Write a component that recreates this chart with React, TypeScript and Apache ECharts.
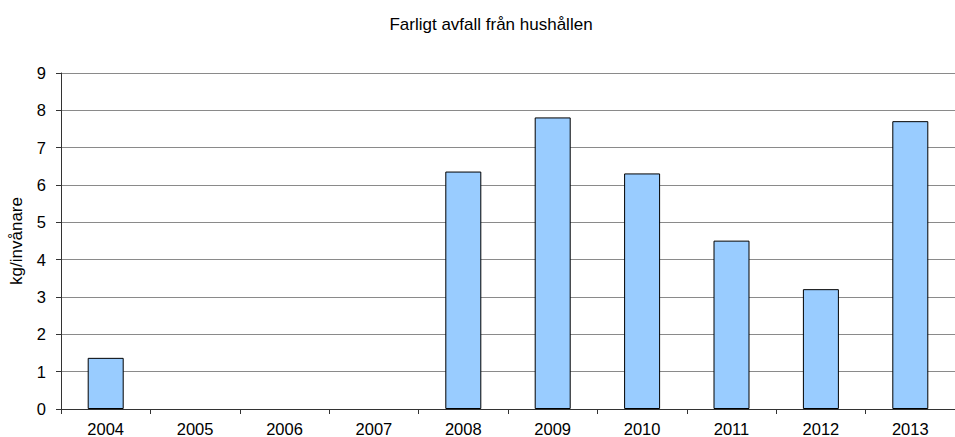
import React, { useEffect, useRef } from "react";
import * as echarts from "echarts";

const categories = ["2004", "2005", "2006", "2007", "2008", "2009", "2010", "2011", "2012", "2013"];
const values = [1.37, 0, 0, 0, 6.36, 7.81, 6.31, 4.51, 3.21, 7.71];
const yTicks = [0, 1, 2, 3, 4, 5, 6, 7, 8, 9];

export default function App() {
  const ref = useRef<HTMLDivElement>(null);
  useEffect(() => {
    document.body.style.margin = "0";
    const chart = echarts.init(ref.current!, undefined, { renderer: "svg" });
    chart.setOption({
      animation: false,
      backgroundColor: "#ffffff",
      textStyle: { fontFamily: "Liberation Sans, Arial, sans-serif" },
      title: {
        text: "Farligt avfall från hushållen",
        left: 486,
        top: 11,
        textAlign: "center",
        textStyle: { fontSize: 17, fontWeight: "normal", color: "#000" },
      },
      grid: { left: 61, top: 73, width: 903, height: 336, containLabel: false },
      xAxis: {
        type: "category",
        data: categories,
        axisLine: { lineStyle: { color: "#333", width: 1 } },
        axisTick: { show: true, alignWithLabel: false, length: 5, lineStyle: { color: "#333" } },
        axisLabel: { color: "#000", fontSize: 16.5, margin: 11 },
        splitLine: { show: false },
      },
      yAxis: {
        type: "value",
        min: yTicks[0],
        max: yTicks[yTicks.length - 1],
        interval: 1,
        name: "kg/invånare",
        nameLocation: "middle",
        nameGap: 36,
        nameTextStyle: { color: "#000", fontSize: 17 },
        axisLine: { show: true, lineStyle: { color: "#333", width: 1 } },
        axisTick: { show: true, length: 5, lineStyle: { color: "#333" } },
        axisLabel: { color: "#000", fontSize: 16.5, margin: 15 },
        splitLine: { show: true, lineStyle: { color: "#8a8a8a", width: 1 } },
      },
      series: [
        {
          type: "bar",
          data: values.map((v) => (v === 0 ? null : v)),
          barWidth: 36,
          itemStyle: { color: "#99ccff", borderColor: "#000", borderWidth: 1 },
        },
      ],
    });
    return () => chart.dispose();
  }, []);
  return <div ref={ref} style={{ width: 955, height: 437, position: "absolute", left: 0, top: 0 }} />;
}
